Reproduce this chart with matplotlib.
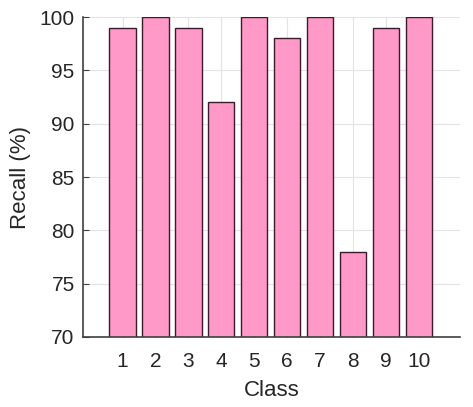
import matplotlib.pyplot as plt
import numpy as np

plt.rcParams["font.family"] = ["Liberation Sans", "DejaVu Sans"]

# recall per class
classes = [1, 2, 3, 4, 5, 6, 7, 8, 9, 10]
recall = [99, 100, 99, 92, 100, 98, 100, 78, 99, 100]
yticks = [70, 75, 80, 85, 90, 95, 100]

BAR_COLOR = "#ff99c8"
EDGE_COLOR = "#3b1a2b"
AXIS_COLOR = "#404040"

fig = plt.figure(figsize=(4.73, 4.07), dpi=100)
ax = fig.add_axes([0.1755, 0.172, 0.797, 0.786])

ax.bar(classes, recall, width=0.8, color=BAR_COLOR, edgecolor=EDGE_COLOR,
       linewidth=1.0, zorder=3)

ax.set_xlim(-0.2, 11.25)
ax.set_ylim(70, 100)
ax.set_xticks(classes)
ax.set_yticks(yticks)

ax.grid(True, color="#e3e3e3", linewidth=0.8, zorder=0)
ax.set_axisbelow(True)

for side in ("top", "right"):
    ax.spines[side].set_visible(False)
for side in ("left", "bottom"):
    ax.spines[side].set_color(AXIS_COLOR)
    ax.spines[side].set_linewidth(1.2)
    ax.spines[side].set_zorder(4)

ax.tick_params(direction="in", length=4, width=0.8, colors=AXIS_COLOR,
               labelcolor="#262626", labelsize=15)
ax.tick_params(axis="x", pad=11)
ax.tick_params(axis="y", pad=6)

ax.set_xlabel("Class", fontsize=16, color="#262626", labelpad=6)
ax.set_ylabel("Recall (%)", fontsize=16, color="#262626", labelpad=6)

fig.savefig("out.png", dpi=100)
